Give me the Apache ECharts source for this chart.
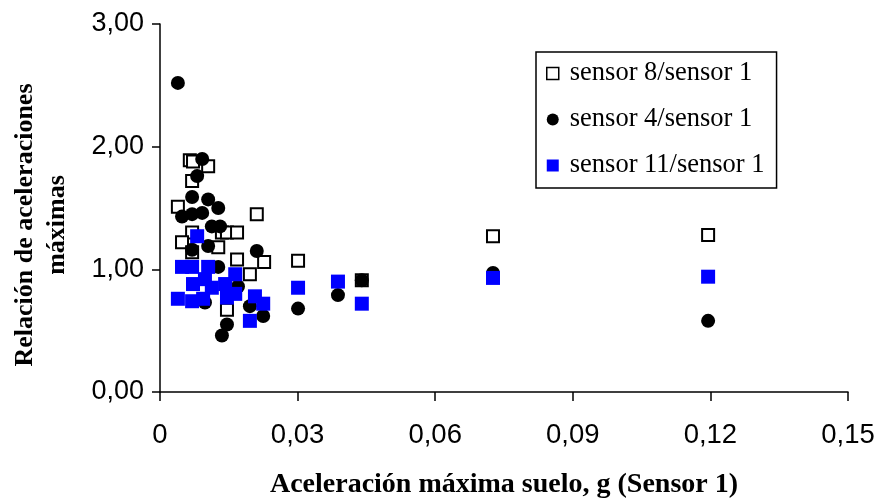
<!DOCTYPE html>
<html><head><meta charset="utf-8">
<script src="https://cdn.jsdelivr.net/npm/echarts@6/dist/echarts.min.js"></script>
<style>html,body{margin:0;padding:0;background:#fff}#c{width:881px;height:504px}</style>
</head><body><div id="c"></div>
<script>
const xTicks = [0, 0.03, 0.06, 0.09, 0.12, 0.15];
const yTicks = [0, 1, 2, 3];
const sensor8 = [
  [0.0039,1.51],[0.0065,1.89],[0.0072,1.88],[0.0105,1.84],[0.0070,1.72],
  [0.0070,1.30],[0.0135,1.30],[0.0146,1.30],[0.0168,1.30],[0.0211,1.45],
  [0.0048,1.22],[0.0127,1.18],[0.0070,1.14],[0.0168,1.08],[0.0227,1.06],
  [0.0196,0.96],[0.0146,0.67],[0.0301,1.07],[0.0440,0.91],[0.0726,1.27],[0.1195,1.28]
];
const sensor4 = [
  [0.0039,2.52],[0.0092,1.90],[0.0081,1.76],[0.0070,1.59],[0.0105,1.57],
  [0.0127,1.50],[0.0048,1.43],[0.0070,1.45],[0.0092,1.46],[0.0113,1.35],
  [0.0131,1.35],[0.0070,1.16],[0.0105,1.19],[0.0211,1.15],[0.0127,1.02],
  [0.0170,0.86],[0.0098,0.73],[0.0196,0.70],[0.0225,0.62],[0.0146,0.55],
  [0.0135,0.46],[0.0301,0.68],[0.0388,0.79],[0.0440,0.91],[0.0726,0.97],[0.1195,0.58]
];
const sensor11 = [
  [0.0081,1.27],[0.0048,1.02],[0.0070,1.02],[0.0105,1.02],[0.0164,0.96],
  [0.0072,0.88],[0.0098,0.92],[0.0142,0.88],[0.0113,0.85],[0.0164,0.80],
  [0.0039,0.76],[0.0070,0.74],[0.0094,0.76],[0.0146,0.77],[0.0207,0.78],
  [0.0225,0.72],[0.0196,0.58],[0.0301,0.85],[0.0388,0.90],[0.0440,0.72],
  [0.0726,0.93],[0.1195,0.94]
];
const seriesNames = ['sensor 8/sensor 1','sensor 4/sensor 1','sensor 11/sensor 1'];
const xTitle = 'Aceleración máxima suelo, g (Sensor 1)';
const yTitle = 'Relación de aceleraciones\nmáximas';

const chart = echarts.init(document.getElementById('c'), null, {renderer:'canvas'});
const fmt = v => v === 0 ? '0' : v.toFixed(2).replace('.', ',');
chart.setOption({
  animation:false,
  backgroundColor:'#fff',
  grid:{left:160, right:33, top:24, bottom:111},
  legend:{
    orient:'vertical', left:536, top:52,
    padding:[8,12,9,10], itemGap:19,
    borderColor:'#000', borderWidth:1.5,
    itemWidth:12, itemHeight:12,
    textStyle:{fontFamily:'Liberation Serif', fontSize:26.5, color:'#000', padding:[0,0,0,6]},
    data:[
      {name:seriesNames[0], icon:'rect', itemStyle:{color:'#fff', borderColor:'#000', borderWidth:1.5}},
      {name:seriesNames[1], icon:'circle'},
      {name:seriesNames[2], icon:'rect'}
    ]
  },
  graphic:[{
    type:'text', x:41, y:225, rotation:Math.PI/2,
    style:{text:yTitle, fontFamily:'Liberation Serif', fontWeight:'bold', fontSize:26,
      lineHeight:32, fill:'#000', align:'center', verticalAlign:'middle'}
  }],
  xAxis:{
    type:'value', min:0, max:0.15, interval:0.03,
    name:xTitle, nameLocation:'middle', nameGap:79,
    nameTextStyle:{fontFamily:'Liberation Serif', fontWeight:'bold', fontSize:28, color:'#000'},
    axisLine:{lineStyle:{color:'#000', width:1.5}},
    axisTick:{show:true, length:9, lineStyle:{color:'#000', width:1.5}},
    axisLabel:{formatter:fmt, fontFamily:'Liberation Sans', fontSize:27.5, color:'#000', margin:29},
    splitLine:{show:false}
  },
  yAxis:{
    type:'value', min:0, max:3, interval:1,
    axisLine:{show:true, lineStyle:{color:'#000', width:1.5}},
    axisTick:{show:true, length:8, lineStyle:{color:'#000', width:1.5}},
    axisLabel:{formatter:v => v.toFixed(2).replace('.', ','), fontFamily:'Liberation Sans', fontSize:27, color:'#000', margin:16},
    splitLine:{show:false}
  },
  series:[
    {name:seriesNames[0], type:'scatter', data:sensor8, symbol:'rect', symbolSize:12,
     itemStyle:{color:'#fff', borderColor:'#000', borderWidth:2, opacity:1}},
    {name:seriesNames[1], type:'scatter', data:sensor4, symbol:'circle', symbolSize:14,
     itemStyle:{color:'#000', opacity:1}},
    {name:seriesNames[2], type:'scatter', data:sensor11, symbol:'rect', symbolSize:14,
     itemStyle:{color:'#0000ff', opacity:1}}
  ]
});
</script></body></html>
